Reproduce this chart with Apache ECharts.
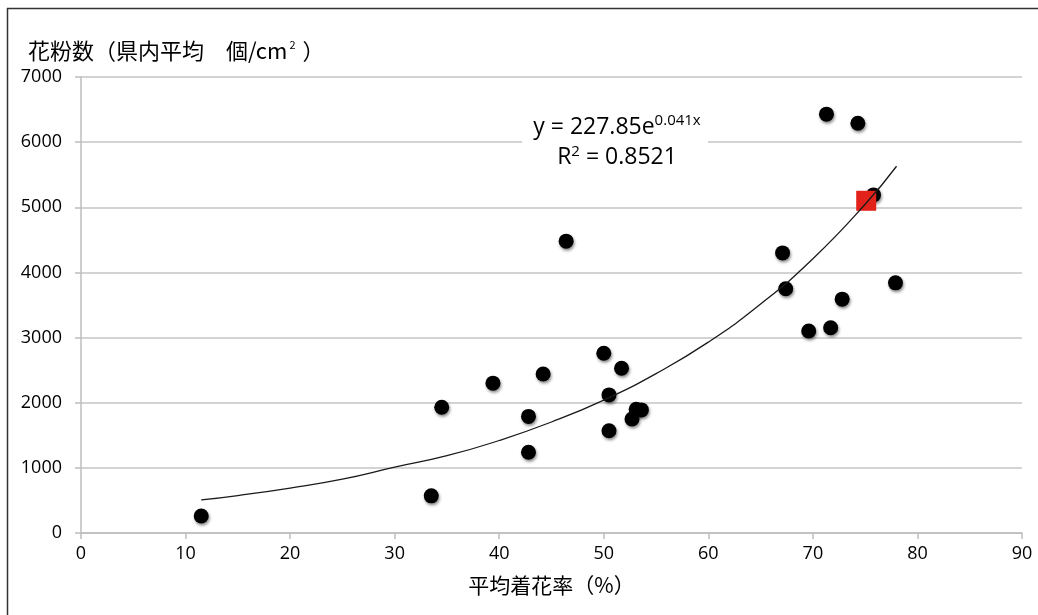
<!DOCTYPE html>
<html><head><meta charset="utf-8">
<script src="https://cdn.jsdelivr.net/npm/echarts@6/dist/echarts.min.js"></script>
<style>html,body{margin:0;padding:0;background:#fff}#c{width:1038px;height:615px}</style>
</head><body><div id="c"></div>
<script>
// --- data ---
const rateX = [11.5, 33.5, 34.5, 39.4, 42.8, 42.8, 44.2, 46.4, 50.0, 50.5, 50.5, 51.7, 52.7, 53.1, 53.6, 67.1, 67.4, 69.6, 71.3, 71.7, 72.8, 74.3, 75.8, 77.9];
const pollenY = [260, 570, 1930, 2300, 1790, 1240, 2440, 4480, 2760, 2120, 1570, 2530, 1750, 1900, 1890, 4300, 3750, 3100, 6430, 3150, 3590, 6290, 5190, 3840];
const highlightX = [75.1];
const highlightY = [5100];
const trendX = [11.5, 15, 20, 25, 30, 35, 40, 45, 50, 55, 60, 65, 70, 75, 78];
const trendY = [507, 575, 690, 826, 1010, 1186, 1420, 1704, 2040, 2447, 2930, 3514, 4210, 5046, 5630];
const yTicks = [0, 1000, 2000, 3000, 4000, 5000, 6000, 7000];
const xTicks = [0, 10, 20, 30, 40, 50, 60, 70, 80, 90];
const yTitle = '花粉数（県内平均　個/cm';
const xTitle = '平均着花率（%）';
const eqLine1 = 'y = 227.85e';
const eqExp = '0.041x';
const eqLine2 = ' = 0.8521';

const FONT = '"Noto Sans CJK JP", "Noto Sans", sans-serif';
const NUMFONT = '"Open Sans", "Liberation Sans", sans-serif';
const zip = (a, b) => a.map((v, i) => [v, b[i]]);

const chart = echarts.init(document.getElementById('c'), null, {renderer: 'canvas'});
chart.setOption({
  animation: false,
  grid: {left: 81, right: 16, top: 77, bottom: 82},
  xAxis: {
    type: 'value', min: xTicks[0], max: xTicks[xTicks.length - 1], interval: 10,
    axisLine: {show: true, lineStyle: {color: '#bdbdbd', width: 1.5}},
    axisTick: {show: true, length: 6, lineStyle: {color: '#bdbdbd', width: 1.5}},
    splitLine: {show: false},
    axisLabel: {color: '#000', fontSize: 18, fontFamily: NUMFONT, margin: 12, formatter: v => String(v)},
    name: xTitle, nameLocation: 'middle', nameGap: 42,
    nameTextStyle: {color: '#000', fontSize: 21, fontFamily: FONT}
  },
  yAxis: {
    type: 'value', min: yTicks[0], max: yTicks[yTicks.length - 1], interval: 1000,
    axisLine: {show: true, lineStyle: {color: '#bdbdbd', width: 1.5}},
    axisTick: {show: true, length: 6, lineStyle: {color: '#bdbdbd', width: 1.5}},
    splitLine: {show: true, lineStyle: {color: '#c4c4c4', width: 1.5}},
    axisLabel: {color: '#000', fontSize: 18, fontFamily: NUMFONT, margin: 19, formatter: v => String(v)}
  },
  graphic: [
    {type: 'line', shape: {x1: 7, y1: 8.5, x2: 1038, y2: 8.5}, style: {stroke: '#333', lineWidth: 1.5}, z: 100},
    {type: 'line', shape: {x1: 7.5, y1: 8, x2: 7.5, y2: 615}, style: {stroke: '#333', lineWidth: 1.5}, z: 100},
    {type: 'text', x: 28, y: 39, z: 100,
      style: {text: yTitle + '{sup|2} ）', fill: '#000', font: '22px ' + FONT,
        rich: {sup: {fontSize: 11, fontFamily: FONT, verticalAlign: 'top', padding: [0, 2, 12, 2]}}}},
    {type: 'rect', shape: {x: 522, y: 108, width: 186, height: 66}, style: {fill: '#fff'}, z: 50},
    {type: 'text', x: 617, y: 113, z: 60,
      style: {text: eqLine1 + '{sup|' + eqExp + '}', align: 'center', fill: '#000',
        font: '23px ' + NUMFONT,
        rich: {sup: {fontSize: 15, fontFamily: NUMFONT, verticalAlign: 'top', padding: [0, 0, 13, 0]}}}},
    {type: 'text', x: 617, y: 144, z: 60,
      style: {text: 'R{sup|2}' + eqLine2, align: 'center', fill: '#000',
        font: '23px ' + NUMFONT,
        rich: {sup: {fontSize: 15, fontFamily: NUMFONT, verticalAlign: 'top', padding: [0, 0, 12, 0]}}}}
  ],
  series: [
    {type: 'scatter', data: zip(rateX, pollenY), symbol: 'circle', symbolSize: 15, z: 2,
      itemStyle: {color: '#000', opacity: 1, shadowBlur: 3, shadowColor: 'rgba(0,0,0,0.45)', shadowOffsetX: 1, shadowOffsetY: 2}},
    {type: 'scatter', data: zip(highlightX, highlightY), symbol: 'rect', symbolSize: 20, z: 3,
      itemStyle: {color: '#e3211b', opacity: 1}},
    {type: 'line', data: zip(trendX, trendY), smooth: true, showSymbol: false, z: 4,
      lineStyle: {color: '#1a1a1a', width: 1.3}}
  ]
});
</script></body></html>
